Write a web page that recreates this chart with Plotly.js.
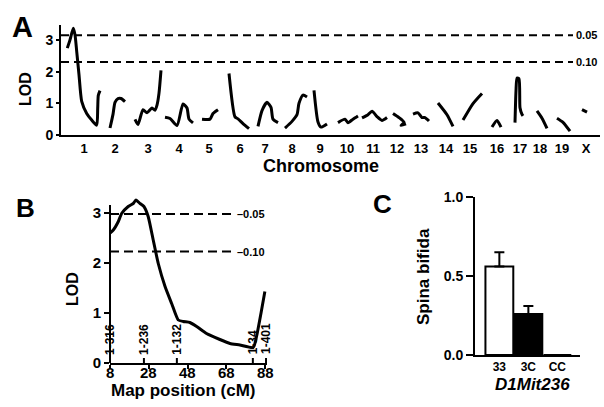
<!DOCTYPE html>
<html>
<head>
<meta charset="utf-8">
<script src="https://cdn.plot.ly/plotly-3.0.1.min.js"></script>
<style>html,body{margin:0;padding:0;background:#fff;}#chart{width:604px;height:407px;}</style>
</head>
<body>
<div id="chart"></div>
<script>
// ---------- Panel A: genome scan (positions in figure genome units, null = chromosome break)
const chromLabels  = ['1','2','3','4','5','6','7','8','9','10','11','12','13','14','15','16','17','18','19','X'];
const chromCenters = [23,54,87,118,148,179,204,231,259,286,312,336,360,385,409,436,459,479,501,525];
const scanPos = [
  6.3,9,12.3,14,15.7,18,20.7,25.7,30.7,35.7,36.7,37.3,39, null,
  49,52,54,57,60,64, null,
  74,77,82,86,91,94,96,98,100, null,
  104,109,116,122,126,128,132, null,
  141,149,152,157, null,
  168,174,177,182,188, null,
  197,201,206,210,212,217, null,
  224,231,236,238,242,246, null,
  253,257,260,266, null,
  277,284,287,292,297, null,
  301,307,311,316,321,326, null,
  332,338,343,340,345, null,
  352,357,361,364,368, null,
  377,386,392, null,
  402,412,421, null,
  431,436,440, null,
  454,455,456,458,459,461,462, null,
  476,481,486, null,
  496,502,509, null,
  521,526
];
const scanLod = [
  2.74,3.0,3.37,3.16,2.64,1.9,1.06,0.68,0.47,0.31,0.84,1.25,1.4, null,
  0.22,0.65,1.03,1.15,1.15,1.05, null,
  0.49,0.33,0.8,0.7,0.85,0.78,0.94,1.32,2.04, null,
  0.56,0.52,0.3,0.98,0.85,0.5,0.38, null,
  0.5,0.5,0.68,0.8, null,
  1.94,0.57,0.51,0.36,0.2, null,
  0.27,0.77,1.03,0.87,0.5,0.39, null,
  0.22,0.43,0.64,1.0,1.26,1.2, null,
  1.41,0.41,0.25,0.35, null,
  0.39,0.5,0.39,0.5,0.6, null,
  0.54,0.64,0.75,0.58,0.46,0.55, null,
  0.68,0.55,0.4,0.3,0.35, null,
  0.66,0.7,0.55,0.55,0.44, null,
  1.01,0.64,0.27, null,
  0.47,0.99,1.31, null,
  0.25,0.46,0.25, null,
  0.39,1.39,1.8,1.77,0.86,0.65,0.6, null,
  0.76,0.53,0.21, null,
  0.53,0.4,0.12, null,
  0.8,0.72
];
const thresholdsA = [3.15, 2.3];
const thresholdLabelsA = ['0.05', '0.10'];
const yTicksA = [0,1,2,3];

// ---------- Panel B: chromosome 1 map
const mapPos = [8,9.7,12.3,14,17.4,20,21.4,23.5,25.5,27.7,30.3,32.9,36.4,39.8,43.2,45.8,49.2,52.7,57.8,64.7,69.9,75,81.9,83.6,86.2,87.9];
const lodB   = [2.6,2.66,2.83,2.99,3.13,3.19,3.26,3.19,3.13,2.93,2.46,1.99,1.53,1.19,0.86,0.83,0.81,0.73,0.59,0.47,0.39,0.36,0.31,0.53,1.06,1.43];
const thresholdsB = [2.98, 2.23];
const thresholdLabelsB = ['\u20130.05', '\u20130.10'];
const markerPos = [8, 25.5, 42.5, 81.7, 88.5];
const markerLabels = ['1-316','1-236','1-132','1-34','1-401'];
const xTicksB = [8,28,48,68,88];
const yTicksB = [0,1,2,3];

// ---------- Panel C: spina bifida by genotype
const genotypes = ['33','3C','CC'];
const spinaBifida = [0.56, 0.26, 0];
const spinaErr = [0.09, 0.05, 0];
const barColors = ['#ffffff','#000000','#ffffff'];
const yTicksC = [0, 0.5, 1.0];
const yTickTextC = ['0.0','0.5','1.0'];

// ---------- layout helpers (pixel -> paper)
const W = 604, H = 407;
const px = x => x / W;
const py = y => 1 - y / H;
const FONT = 'Liberation Sans, Arial, Helvetica, sans-serif';

const traces = [
  {x: scanPos, y: scanLod, type: 'scatter', mode: 'lines', xaxis: 'x', yaxis: 'y',
   line: {color: '#000', width: 3, shape: 'spline', smoothing: 0.6}, connectgaps: false, hoverinfo: 'skip'},
  {x: mapPos, y: lodB, type: 'scatter', mode: 'lines', xaxis: 'x2', yaxis: 'y2',
   line: {color: '#000', width: 3, shape: 'spline', smoothing: 0.5}, hoverinfo: 'skip'},
  {x: genotypes, y: spinaBifida, type: 'bar', xaxis: 'x3', yaxis: 'y3',
   marker: {color: barColors, line: {color: '#000', width: 2}},
   error_y: {type: 'data', array: spinaErr, arrayminus: [0,0,0], symmetric: false, color: '#000', thickness: 2, width: 5},
   hoverinfo: 'skip'}
];

const shapes = [];
const annotations = [];

// Panel A thresholds
thresholdsA.forEach((t, i) => {
  shapes.push({type: 'line', xref: 'x', yref: 'y', x0: 0, x1: 512, y0: t, y1: t,
    line: {color: '#000', width: 2, dash: '8px,5px'}});
  annotations.push({xref: 'x', yref: 'y', x: 513, y: t, text: thresholdLabelsA[i], showarrow: false,
    xanchor: 'left', yanchor: 'middle', font: {size: 11}});
});
// Panel B thresholds
thresholdsB.forEach((t, i) => {
  shapes.push({type: 'line', xref: 'x2', yref: 'y2', x0: 8, x1: 72, y0: t, y1: t,
    line: {color: '#000', width: 2, dash: '9px,5px'}});
  annotations.push({xref: 'x2', yref: 'y2', x: 72.5, y: t, text: thresholdLabelsB[i], showarrow: false,
    xanchor: 'left', yanchor: 'middle', font: {size: 11}});
});
// Panel B y axis line (stops at 3.16)
shapes.push({type: 'line', xref: 'x2 domain', yref: 'y2', x0: 0, x1: 0, y0: 0, y1: 3.16,
  line: {color: '#000', width: 2}});
// Panel B markers
markerPos.forEach((m, i) => {
  shapes.push({type: 'line', xref: 'x2', yref: 'y2', x0: m, x1: m, y0: 0, y1: 0.1,
    line: {color: '#000', width: 2}});
  annotations.push({xref: 'x2', yref: 'y2', x: m, y: 0.13, text: markerLabels[i], showarrow: false,
    textangle: -90, xanchor: 'center', yanchor: 'bottom', font: {size: 12}});
});
// Panel B x tick labels (placed close to the axis as in the reference)
xTicksB.forEach(v => {
  annotations.push({xref: 'x2', yref: 'paper', x: v, y: py(372), text: String(v), showarrow: false,
    xanchor: 'center', yanchor: 'middle', font: {size: 15}});
});

// Panel letters and titles
annotations.push(
  {xref: 'paper', yref: 'paper', x: px(10), y: py(27), text: 'A', showarrow: false, xanchor: 'left', yanchor: 'middle', font: {size: 29}},
  {xref: 'paper', yref: 'paper', x: px(14), y: py(208), text: 'B', showarrow: false, xanchor: 'left', yanchor: 'middle', font: {size: 26}},
  {xref: 'paper', yref: 'paper', x: px(371), y: py(204), text: 'C', showarrow: false, xanchor: 'left', yanchor: 'middle', font: {size: 26}},
  {xref: 'paper', yref: 'paper', x: px(26), y: py(89), text: 'LOD', showarrow: false, textangle: -90, xanchor: 'center', yanchor: 'middle', font: {size: 16}},
  {xref: 'paper', yref: 'paper', x: px(321), y: py(166), text: 'Chromosome', showarrow: false, xanchor: 'center', yanchor: 'middle', font: {size: 18}},
  {xref: 'paper', yref: 'paper', x: px(72), y: py(289), text: 'LOD', showarrow: false, textangle: -90, xanchor: 'center', yanchor: 'middle', font: {size: 16}},
  {xref: 'paper', yref: 'paper', x: px(183), y: py(390), text: 'Map position (cM)', showarrow: false, xanchor: 'center', yanchor: 'middle', font: {size: 17}},
  {xref: 'paper', yref: 'paper', x: px(423), y: py(277), text: 'Spina bifida', showarrow: false, textangle: -90, xanchor: 'center', yanchor: 'middle', font: {size: 17}},
  {xref: 'paper', yref: 'paper', x: px(532), y: py(384), text: '<i>D1Mit236</i>', showarrow: false, xanchor: 'center', yanchor: 'middle', font: {size: 17}}
);

const axisCommon = {showgrid: false, zeroline: false, showline: true, linecolor: '#000', linewidth: 2,
  tickcolor: '#000', tickwidth: 2, fixedrange: true};

const layout = {
  width: W, height: H,
  margin: {l: 0, r: 0, t: 0, b: 0, pad: 0},
  paper_bgcolor: '#fff', plot_bgcolor: 'rgba(0,0,0,0)',
  showlegend: false,
  font: {family: FONT, color: '#000', size: 13, weight: 'bold'},
  xaxis: Object.assign({}, axisCommon, {domain: [px(61), px(600)], range: [0, 539], anchor: 'y',
    tickmode: 'array', tickvals: chromCenters, ticktext: chromLabels, ticks: '', tickfont: {size: 13}}),
  yaxis: Object.assign({}, axisCommon, {domain: [py(135), py(25)], range: [0, 3.47], anchor: 'x',
    tickmode: 'array', tickvals: yTicksA, ticks: 'outside', ticklen: 3, tickfont: {size: 14}}),
  xaxis2: Object.assign({}, axisCommon, {domain: [px(110), px(267)], range: [8, 89], anchor: 'y2',
    tickmode: 'array', tickvals: xTicksB, ticks: 'outside', ticklen: 4, showticklabels: false}),
  yaxis2: Object.assign({}, axisCommon, {domain: [py(363), py(198)], range: [0, 3.3], anchor: 'x2', showline: false,
    tickmode: 'array', tickvals: yTicksB, ticks: 'outside', ticklen: 5, tickfont: {size: 15}}),
  xaxis3: Object.assign({}, axisCommon, {domain: [px(475), px(580)], range: [-0.84, 2.78], anchor: 'y3',
    type: 'category', ticks: '', tickfont: {size: 12}}),
  yaxis3: Object.assign({}, axisCommon, {domain: [py(355), py(197)], range: [0, 1], anchor: 'x3',
    tickmode: 'array', tickvals: yTicksC, ticktext: yTickTextC, ticks: 'outside', ticklen: 7, tickfont: {size: 14}}),
  bargap: 0.04,
  shapes: shapes,
  annotations: annotations
};

Plotly.newPlot('chart', traces, layout, {staticPlot: true, displayModeBar: false});
</script>
</body>
</html>
